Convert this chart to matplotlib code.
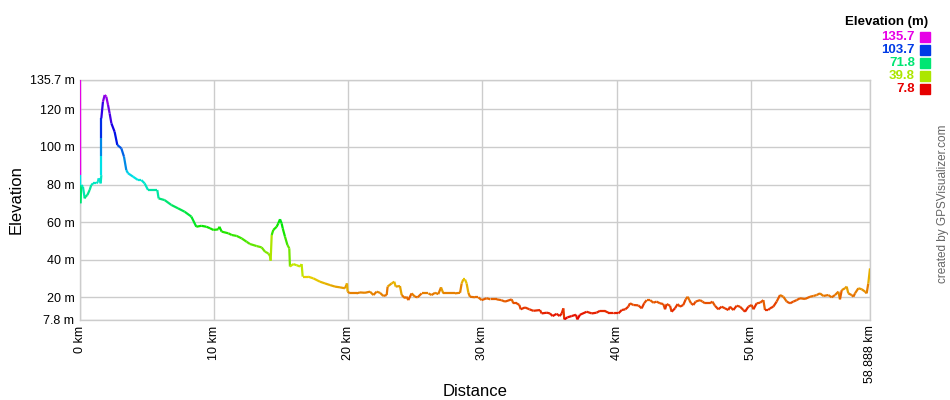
import numpy as np
import matplotlib
matplotlib.use('Agg')
import matplotlib.pyplot as plt
from matplotlib.collections import LineCollection
from matplotlib.colors import hsv_to_rgb

plt.rcParams['font.family'] = ['Liberation Sans', 'DejaVu Sans']

# Track profile (distance in km, elevation in m)
dist_km = [
    0.00, 0.01, 0.03, 0.10, 0.22, 0.35, 0.40, 0.55, 0.72, 0.84, 0.97, 1.22, 1.34, 1.39, 1.47, 1.54,
    1.59, 1.59, 1.59, 1.59, 1.71, 1.84, 1.96, 2.09, 2.21, 2.34, 2.58, 2.78, 3.08, 3.28, 3.45, 3.58,
    3.95, 4.32, 4.57, 4.82, 5.07, 5.44, 5.76, 5.86, 6.31, 6.81, 7.31, 7.80, 8.30, 8.67, 9.04, 9.42,
    9.69, 9.94, 10.31, 10.39, 10.56, 11.06, 11.31, 11.68, 12.05, 12.42, 12.67, 13.17, 13.54, 13.79,
    14.04, 14.16, 14.21, 14.29, 14.41, 14.66, 14.78, 14.91, 15.03, 15.11, 15.28, 15.46, 15.60, 15.65,
    15.90, 16.15, 16.40, 16.52, 16.60, 17.00, 17.39, 17.89, 18.26, 18.64, 19.01, 19.38, 19.75, 19.85,
    19.90, 19.95, 20.13, 20.62, 20.87, 21.24, 21.62, 21.87, 22.11, 22.36, 22.61, 22.86, 22.93, 23.23,
    23.43, 23.53, 23.85, 23.98, 24.23, 24.35, 24.47, 24.72, 24.97, 25.17, 25.47, 25.97, 26.21, 26.46,
    26.71, 26.91, 27.08, 27.46, 27.95, 28.33, 28.45, 28.57, 28.70, 28.82, 28.95, 29.07, 29.44, 29.69,
    29.94, 30.31, 30.60, 31.06, 31.40, 31.68, 32.18, 32.30, 32.55, 32.75, 32.85, 33.17, 33.50, 33.79,
    34.29, 34.41, 34.80, 35.03, 35.23, 35.53, 35.75, 35.91, 36.03, 36.10, 36.33, 36.65, 36.97, 37.07,
    37.27, 37.77, 38.15, 38.51, 38.76, 39.10, 39.38, 39.76, 39.88, 40.13, 40.38, 40.65, 40.87, 41.00,
    41.25, 41.62, 41.87, 42.05, 42.24, 42.50, 42.74, 42.98, 43.23, 43.48, 43.61, 43.73, 43.98, 44.10,
    44.35, 44.55, 44.72, 44.97, 45.15, 45.30, 45.42, 45.55, 45.72, 45.89, 46.22, 46.40, 46.59, 46.95,
    47.14, 47.33, 47.58, 47.83, 48.08, 48.33, 48.45, 48.70, 48.95, 49.20, 49.45, 49.57, 49.82, 50.07,
    50.20, 50.44, 50.70, 50.94, 51.06, 51.30, 51.43, 51.68, 51.93, 52.18, 52.43, 52.68, 52.93, 53.17,
    53.42, 53.67, 54.04, 54.42, 54.67, 54.91, 55.16, 55.41, 55.78, 56.03, 56.28, 56.53, 56.65, 56.78,
    57.02, 57.15, 57.27, 57.52, 57.65, 57.77, 58.02, 58.27, 58.52, 58.64, 58.76, 58.888,
]
elev_m = [
    135.7, 85.1, 70.0, 79.7, 78.8, 72.6, 73.5, 74.4, 77.1, 79.7, 80.6, 80.6, 81.5, 83.3, 82.4, 80.6,
    85.0, 95.0, 105.0, 115.3, 124.1, 127.7, 126.8, 122.4, 117.9, 112.6, 108.1, 101.1, 99.3, 94.8, 87.7, 86.0,
    84.2, 82.4, 82.4, 80.6, 77.1, 77.1, 77.1, 72.6, 71.7, 69.1, 67.3, 65.5, 62.9, 57.5, 58.0, 57.5,
    56.7, 55.8, 56.1, 57.5, 54.9, 54.0, 53.1, 52.6, 51.3, 49.5, 48.3, 47.2, 46.5, 44.2,
    43.3, 41.9, 39.4, 53.1, 55.8, 57.5, 59.3, 61.5, 59.3, 56.7, 52.2, 47.8, 46.0, 36.3,
    37.6, 37.0, 36.3, 37.6, 30.9, 30.9, 30.0, 28.2, 27.3, 26.4, 25.6, 25.2, 24.7, 26.4,
    27.3, 22.9, 22.0, 22.0, 22.5, 22.3, 22.9, 21.1, 22.9, 22.3, 20.6, 21.1, 25.6, 27.3,
    28.2, 25.6, 25.9, 21.1, 19.4, 20.2, 18.4, 22.0, 20.2, 19.9, 22.0, 22.0, 21.1, 22.3,
    21.6, 25.2, 22.0, 22.0, 22.0, 22.3, 27.3, 29.4, 29.4, 27.3, 22.3, 20.2, 19.9, 19.9,
    18.4, 19.4, 18.8, 18.8, 18.4, 17.6, 18.8, 16.7, 16.7, 15.8, 13.5, 14.5, 13.5, 12.7,
    13.1, 11.3, 11.7, 11.3, 9.9, 11.1, 9.9, 11.3, 14.0, 8.1, 9.2, 9.9, 10.6, 8.1,
    10.6, 12.2, 11.3, 11.7, 12.7, 12.7, 11.7, 11.7, 11.3, 11.3, 13.1, 13.5, 14.9, 16.7,
    15.8, 15.6, 14.0, 16.7, 18.4, 18.4, 17.0, 17.6, 16.7, 16.3, 13.5, 16.3, 15.4, 12.2,
    14.0, 16.3, 14.9, 15.8, 18.8, 20.2, 18.4, 16.7, 15.8, 17.6, 18.4, 17.6, 16.7, 16.7,
    17.6, 15.4, 13.5, 14.9, 14.0, 13.1, 14.9, 13.1, 15.4, 14.9, 13.1, 12.2, 14.9, 15.8,
    13.5, 16.7, 17.0, 18.4, 13.1, 13.1, 14.0, 14.9, 17.6, 21.1, 20.2, 17.6, 16.7, 17.6,
    18.4, 19.4, 19.0, 20.2, 20.6, 21.1, 22.0, 20.6, 21.1, 19.9, 21.1, 22.9, 18.8, 23.7,
    24.7, 25.6, 22.0, 21.1, 20.2, 22.0, 24.7, 24.2, 22.9, 22.0, 27.3, 35.3,
]

y_ticks = [7.8, 20, 40, 60, 80, 100, 120, 135.7]
y_labels = ['7.8 m', '20 m', '40 m', '60 m', '80 m', '100 m', '120 m', '135.7 m']
x_ticks = [0, 10, 20, 30, 40, 50, 58.888]
x_labels = ['0 km', '10 km', '20 km', '30 km', '40 km', '50 km', '58.888 km']
legend_vals = [135.7, 103.7, 71.8, 39.8, 7.8]

e_min, e_max = 7.8, 135.7


def elev_color(v):
    # red (low) -> magenta (high) along the hue wheel
    h = (v - e_min) / (e_max - e_min) * 300.0 / 360.0
    return hsv_to_rgb([h, 1.0, 0.9])


fig = plt.figure(figsize=(9.5, 4), dpi=100)
ax = fig.add_axes([80 / 950, 80 / 400, 790 / 950, 240 / 400])

x = np.array(dist_km)
y = np.array(elev_m)
pts = np.column_stack([x, y]).reshape(-1, 1, 2)
segs = np.concatenate([pts[:-1], pts[1:]], axis=1)
cols = [elev_color(v) for v in y[:-1]]
ax.add_collection(LineCollection(segs, colors=cols, linewidths=1.6, zorder=3))

ax.set_xlim(0, 58.888)
ax.set_ylim(e_min, e_max)
ax.set_yticks(y_ticks)
ax.set_yticklabels(y_labels, fontsize=9)
ax.set_xticks(x_ticks)
ax.set_xticklabels(x_labels, fontsize=9, rotation=90)
ax.tick_params(length=0, pad=4, colors='black')
ax.grid(True, color='#cccccc', linewidth=1)
ax.set_axisbelow(True)
for s in ax.spines.values():
    s.set_color('#cccccc')
    s.set_linewidth(1)

ax.set_ylabel('Elevation', fontsize=12, va='center')
ax.set_xlabel('Distance', fontsize=12, va='center')
ax.yaxis.set_label_coords(-64 / 790, 0.5)
ax.xaxis.set_label_coords(0.5, -72 / 240)

# colour legend at top right
fig.text(928 / 950, 1 - 22 / 400, 'Elevation (m)', ha='right', va='center',
         fontsize=9.5, fontweight='bold')
for i, v in enumerate(legend_vals):
    yy = 1 - (37 + i * 13) / 400
    c = elev_color(v)
    fig.text(915 / 950, yy, f'{v:.1f}', ha='right', va='center', fontsize=9.5,
             fontweight='bold', color=c)
    fig.patches.append(plt.Rectangle((920 / 950, yy - 5 / 400), 10 / 950, 10 / 400,
                                     transform=fig.transFigure, color=c))

fig.text(943 / 950, 0.49, 'created by GPSVisualizer.com', rotation=90,
         ha='center', va='center', fontsize=8.5, color='#666666')

fig.savefig('out.png', dpi=100)
